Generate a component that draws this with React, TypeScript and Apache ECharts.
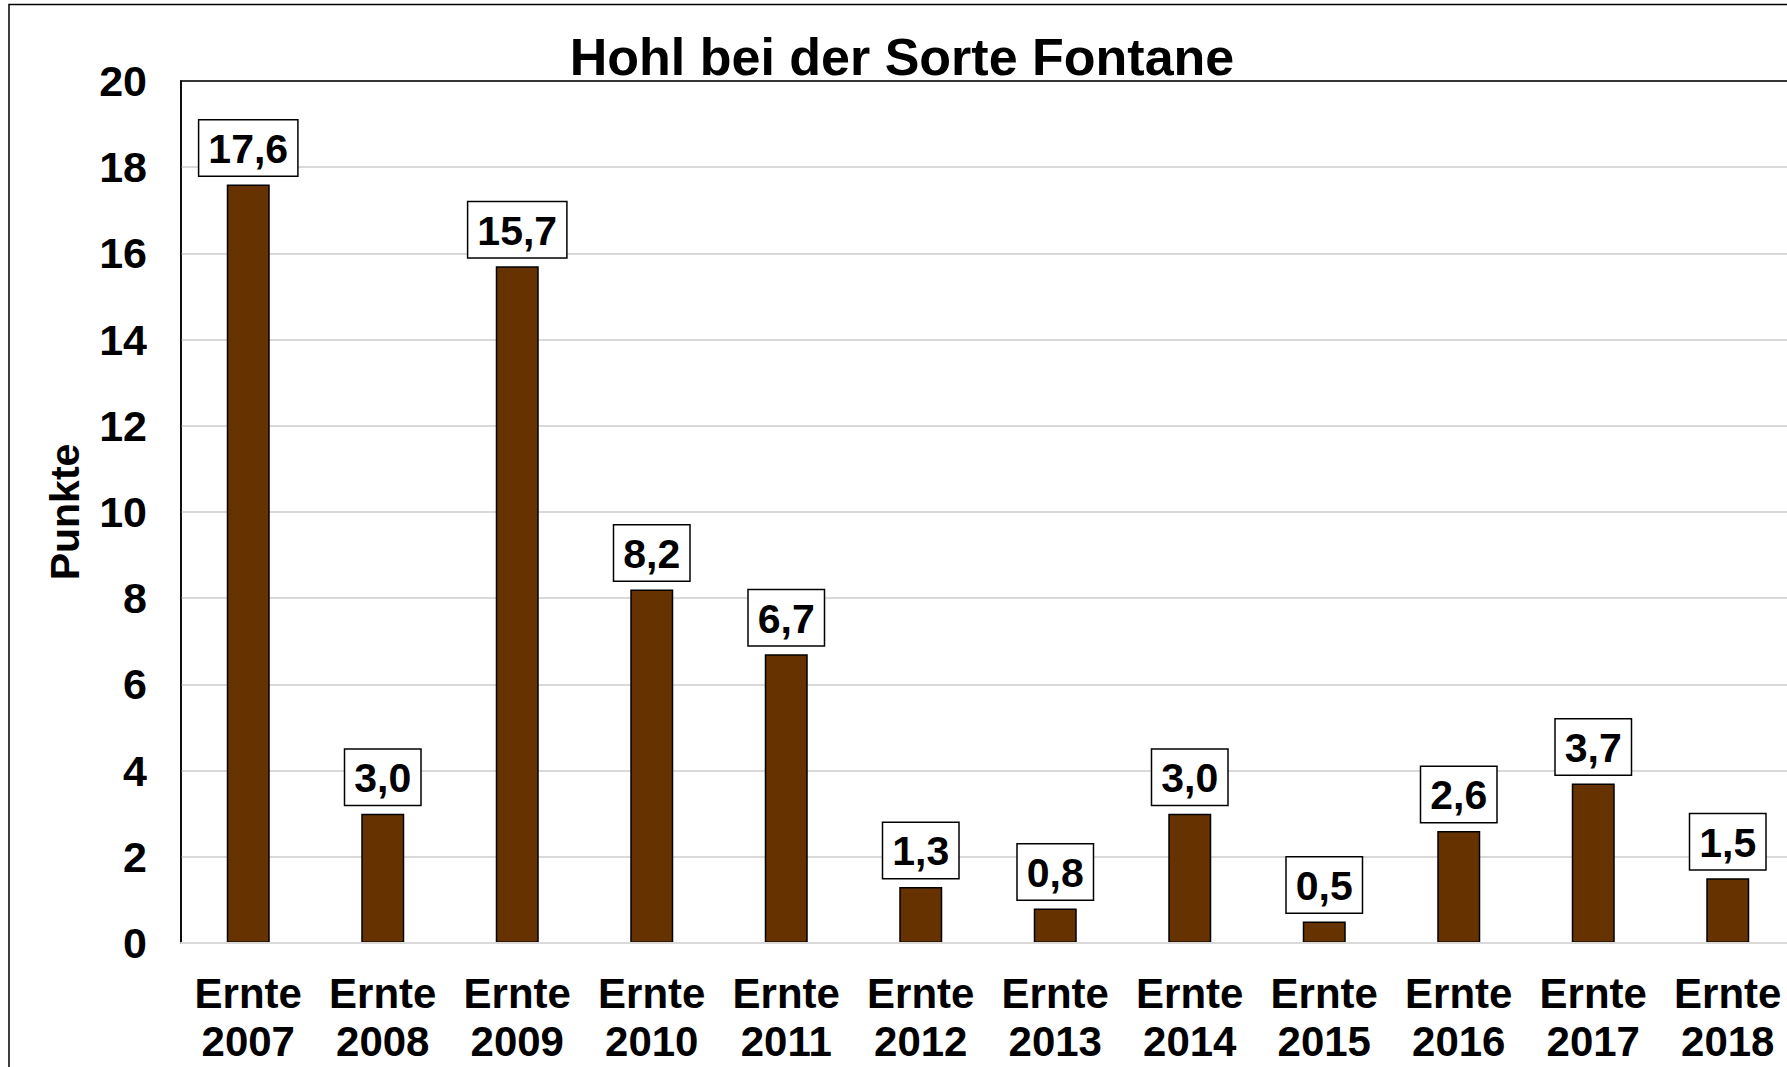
import React, { useEffect, useRef } from "react";
import * as echarts from "echarts";

const title = "Hohl bei der Sorte Fontane";
const yAxisName = "Punkte";
const categories = [
  "Ernte\n2007", "Ernte\n2008", "Ernte\n2009", "Ernte\n2010", "Ernte\n2011", "Ernte\n2012",
  "Ernte\n2013", "Ernte\n2014", "Ernte\n2015", "Ernte\n2016", "Ernte\n2017", "Ernte\n2018",
];
const values = [17.6, 3.0, 15.7, 8.2, 6.7, 1.3, 0.8, 3.0, 0.5, 2.6, 3.7, 1.5];
const yMin = 0;
const yMax = 20;
const yInterval = 2;

const FONT = "'Liberation Sans', Arial, Helvetica, sans-serif";

export default function App() {
  const ref = useRef<HTMLDivElement>(null);
  useEffect(() => {
    if (!ref.current) return;
    const chart = echarts.init(ref.current, null, { renderer: "svg" });
    chart.setOption({
      animation: false,
      backgroundColor: "#ffffff",
      title: {
        text: title,
        left: 897,
        top: 26,
        textAlign: "center",
        textStyle: { fontFamily: FONT, fontWeight: "bold", fontSize: 52, color: "#000" },
      },
      graphic: [
        {
          type: "rect",
          shape: { x: 9, y: 4.5, width: 2000, height: 2000 },
          style: { fill: "none", stroke: "#000", lineWidth: 1.5 },
          z: 100,
        },
      ],
      grid: {
        left: 181,
        top: 81,
        width: 1614,
        height: 862,
        outerBoundsMode: "none",
        containLabel: false,
        show: true,
        borderColor: "#000",
        borderWidth: 1.5,
        backgroundColor: "transparent",
      },
      xAxis: [
        {
          type: "category",
          data: categories,
          axisLine: { show: true, lineStyle: { color: "#d9d9d9", width: 2 } },
          axisTick: { show: false },
          axisLabel: {
            interval: 0,
            margin: 26,
            fontFamily: FONT,
            fontWeight: "bold",
            fontSize: 42,
            lineHeight: 48,
            color: "#000",
          },
          z: 5,
        },
        {
          type: "category",
          position: "top",
          data: categories,
          axisLine: { show: true, lineStyle: { color: "#000", width: 1.5 } },
          axisTick: { show: false },
          axisLabel: { show: false },
          splitLine: { show: false },
          z: 6,
        },
      ],
      yAxis: {
        type: "value",
        min: yMin,
        max: yMax,
        interval: yInterval,
        name: yAxisName,
        nameLocation: "middle",
        nameGap: 96,
        nameTextStyle: { fontFamily: FONT, fontWeight: "bold", fontSize: 41, color: "#000" },
        axisLine: { show: true, lineStyle: { color: "#000", width: 1.5 } },
        axisTick: { show: false },
        axisLabel: {
          margin: 34,
          fontFamily: FONT,
          fontWeight: "bold",
          fontSize: 43,
          color: "#000",
        },
        splitLine: { show: true, lineStyle: { color: "#d9d9d9", width: 2 } },
      },
      series: [
        {
          type: "bar",
          xAxisIndex: 0,
          data: values,
          barWidth: 43,
          itemStyle: { color: "#663300", borderColor: "#000", borderWidth: 1.5 },
          label: {
            show: true,
            position: "top",
            distance: 9,
            formatter: (p: any) => Number(p.value).toFixed(1).replace(".", ","),
            fontFamily: FONT,
            fontWeight: "bold",
            fontSize: 41,
            color: "#000",
            backgroundColor: "#fff",
            borderColor: "#000",
            borderWidth: 1.5,
            padding: [8, 9, 6, 9],
          },
        },
      ],
    });
    return () => chart.dispose();
  }, []);
  return (
    <div
      ref={ref}
      style={{ position: "fixed", left: 0, top: 0, width: 1787, height: 1067, background: "#fff" }}
    />
  );
}
